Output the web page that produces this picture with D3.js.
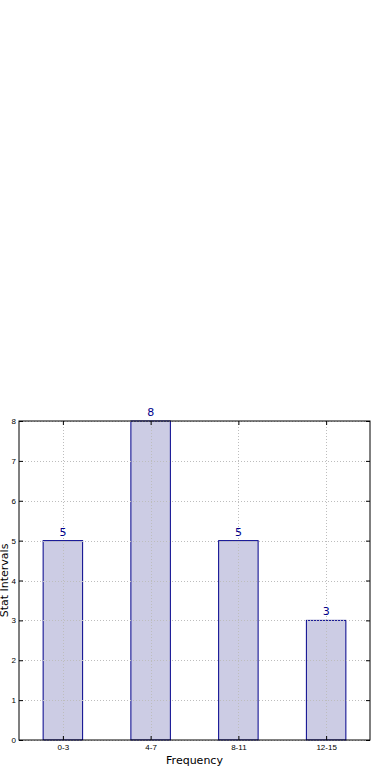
<!DOCTYPE html>
<html>
<head>
<meta charset="utf-8">
<script src="https://cdn.jsdelivr.net/npm/d3@7"></script>
<style>
  body { margin: 0; background: #fff; }
  svg { display: block; font-family: "DejaVu Sans", sans-serif; }
</style>
</head>
<body>
<svg id="chart" width="390" height="780"></svg>
<script>
var categories = ["0-3", "4-7", "8-11", "12-15"];
var counts = [5, 8, 5, 3];
var yTicks = [0, 1, 2, 3, 4, 5, 6, 7, 8];

var svg = d3.select("#chart");
var margin = {left: 19, top: 421, right: 20, bottom: 40};
var width = 390 - margin.left - margin.right;
var height = 780 - margin.top - margin.bottom;

var x = d3.scaleLinear().domain([-0.5, categories.length - 0.5]).range([0, width]);
var y = d3.scaleLinear().domain([0, 8]).range([height, 0]);
var barW = 0.45;

var g = svg.append("g")
  .attr("transform", "translate(" + margin.left + "," + margin.top + ")");

// bars
g.selectAll("rect.bar")
  .data(counts)
  .enter().append("rect")
  .attr("class", "bar")
  .attr("x", function(d, i) { return x(i - barW / 2); })
  .attr("width", function(d, i) { return x(i + barW / 2) - x(i - barW / 2); })
  .attr("y", function(d) { return y(d); })
  .attr("height", function(d) { return y(0) - y(d); })
  .attr("fill", "#ccccE4")
  .attr("stroke", "#00008b")
  .attr("stroke-width", 1);

// grid over bars
g.append("g").selectAll("line")
  .data(yTicks)
  .enter().append("line")
  .attr("x1", 0).attr("x2", width)
  .attr("y1", function(d) { return Math.round(y(d)) + 0.5; })
  .attr("y2", function(d) { return Math.round(y(d)) + 0.5; })
  .attr("stroke", "#bdbdbd")
  .attr("stroke-dasharray", "1,2");

g.append("g").selectAll("line")
  .data(categories)
  .enter().append("line")
  .attr("x1", function(d, i) { return Math.round(x(i)) + 0.5; })
  .attr("x2", function(d, i) { return Math.round(x(i)) + 0.5; })
  .attr("y1", 0).attr("y2", height)
  .attr("stroke", "#bdbdbd")
  .attr("stroke-dasharray", "1,2");

// value labels
g.selectAll("text.val")
  .data(counts)
  .enter().append("text")
  .attr("class", "val")
  .attr("x", function(d, i) { return x(i); })
  .attr("y", function(d) { return y(d) - 5; })
  .attr("text-anchor", "middle")
  .attr("font-size", 11)
  .attr("fill", "#00008b")
  .text(function(d) { return d; });

// axes (ticks inward, matplotlib classic)
var yAxis = d3.axisLeft(y).tickValues(yTicks).tickSize(-4).tickPadding(3);
var xAxis = d3.axisBottom(x).tickValues(d3.range(categories.length))
  .tickFormat(function(i) { return categories[i]; }).tickSize(-4).tickPadding(4);

g.append("g").call(yAxis)
  .call(function(a) { a.select(".domain").remove(); })
  .selectAll("text").attr("font-size", 8).attr("fill", "#000");
g.append("g").attr("transform", "translate(0," + height + ")").call(xAxis)
  .call(function(a) { a.select(".domain").remove(); })
  .selectAll("text").attr("font-size", 8).attr("fill", "#000");
g.append("g").attr("transform", "translate(" + width + ",0)")
  .call(d3.axisRight(y).tickValues(yTicks).tickSize(-4).tickFormat(""))
  .call(function(a) { a.select(".domain").remove(); });
g.append("g")
  .call(d3.axisTop(x).tickValues(d3.range(categories.length)).tickSize(-4).tickFormat(""))
  .call(function(a) { a.select(".domain").remove(); });

// frame
g.append("rect")
  .attr("x", 0).attr("y", 0)
  .attr("width", width).attr("height", height)
  .attr("fill", "none")
  .attr("stroke", "#000")
  .attr("stroke-width", 1);

// axis titles
svg.append("text")
  .attr("x", margin.left + width / 2)
  .attr("y", 764)
  .attr("text-anchor", "middle")
  .attr("font-size", 11)
  .text("Frequency");

svg.append("text")
  .attr("transform", "translate(8," + (margin.top + height / 2) + ") rotate(-90)")
  .attr("text-anchor", "middle")
  .attr("font-size", 11)
  .text("Stat Intervals");
</script>
</body>
</html>
